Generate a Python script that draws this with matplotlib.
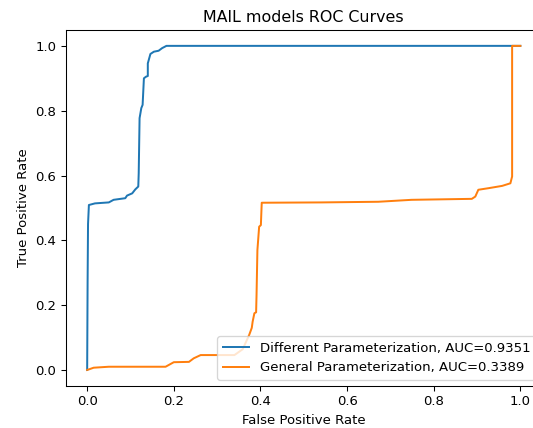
import numpy as np
import matplotlib
matplotlib.use("Agg")
import matplotlib.pyplot as plt

# ROC points
fpr_diff = [0.0, 0.001, 0.002, 0.004, 0.018, 0.05, 0.061, 0.088, 0.092, 0.104,
            0.111, 0.118, 0.119, 0.121, 0.125, 0.128, 0.131, 0.136, 0.140, 0.140,
            0.146, 0.154, 0.165, 0.173, 0.183, 1.0]
tpr_diff = [0.0, 0.27, 0.45, 0.509, 0.514, 0.517, 0.525, 0.530, 0.538, 0.545,
            0.557, 0.566, 0.607, 0.777, 0.808, 0.818, 0.900, 0.905, 0.907, 0.946,
            0.975, 0.982, 0.985, 0.993, 1.0, 1.0]

fpr_gen = [0.0, 0.015, 0.05, 0.181, 0.20, 0.235, 0.246, 0.262, 0.34, 0.359,
           0.374, 0.380, 0.382, 0.386, 0.390, 0.391, 0.393, 0.397, 0.401, 0.403,
           0.541, 0.672, 0.749, 0.888, 0.896, 0.903, 0.927, 0.958, 0.977, 0.981,
           0.981, 1.0]
tpr_gen = [0.0, 0.007, 0.010, 0.010, 0.024, 0.025, 0.036, 0.046, 0.046, 0.064,
           0.108, 0.130, 0.149, 0.175, 0.178, 0.231, 0.370, 0.442, 0.447, 0.516,
           0.517, 0.519, 0.525, 0.528, 0.535, 0.556, 0.561, 0.568, 0.576, 0.597,
           1.0, 1.0]

auc_diff = 0.9351
auc_gen = 0.3389

# reference looks like a slightly downscaled 100-dpi render
dpi = 95
fig = plt.figure(figsize=(533 / dpi, 428 / dpi), dpi=dpi)
ax = fig.add_axes([0.1229, 0.0977, 0.894, 0.833])

ax.plot(fpr_diff, tpr_diff, label=f"Different Parameterization, AUC={auc_diff}")
ax.plot(fpr_gen, tpr_gen, label=f"General Parameterization, AUC={auc_gen}")

ax.set_title("MAIL models ROC Curves")
ax.set_xlabel("False Positive Rate")
ax.set_ylabel("True Positive Rate")
ax.legend(loc="lower right")

fig.savefig("out.png", dpi=dpi)
